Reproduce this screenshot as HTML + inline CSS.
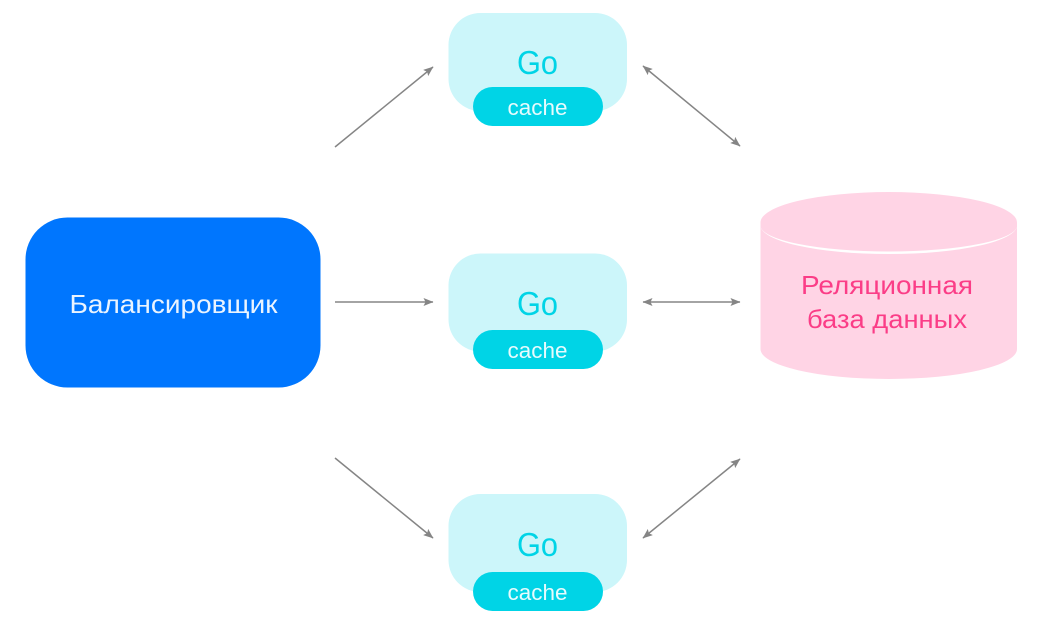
<!DOCTYPE html>
<html>
<head>
<meta charset="utf-8">
<style>
html,body{margin:0;padding:0;background:#fff;width:1043px;height:620px;overflow:hidden}
svg{display:block}
text{font-family:"Liberation Sans","DejaVu Sans",sans-serif;text-anchor:middle}
</style>
</head>
<body>
<svg width="1043" height="620" viewBox="0 0 1043 620" xmlns="http://www.w3.org/2000/svg">
<defs>
<marker id="a" viewBox="0 0 10 8" refX="9.5" refY="4" markerWidth="10" markerHeight="8" markerUnits="userSpaceOnUse" orient="auto-start-reverse"><path d="M0 0L10 4L0 8L2 4Z" fill="#858585"/></marker>
</defs>
<rect x="25.500" y="217.500" width="295" height="170" rx="42" fill="#0076fe"/>
<text x="173.500" y="313" font-size="26" fill="#eaf4ff" textLength="208" lengthAdjust="spacingAndGlyphs">Балансировщик</text>

<g>
<rect x="448.500" y="13" width="178.500" height="98" rx="32" fill="#ccf6fa"/>
<rect x="473" y="87" width="130" height="39" rx="19.500" fill="#00d4e6"/>
<text x="537.500" y="74" font-size="33" fill="#00d4e6" textLength="41" lengthAdjust="spacingAndGlyphs">Go</text>
<text x="537.500" y="115" font-size="22" fill="#e6fbfd" textLength="60" lengthAdjust="spacingAndGlyphs">cache</text>
</g>
<g>
<rect x="448.500" y="253.500" width="178.500" height="98" rx="32" fill="#ccf6fa"/>
<rect x="473" y="330" width="130" height="39" rx="19.500" fill="#00d4e6"/>
<text x="537.500" y="315" font-size="33" fill="#00d4e6" textLength="41" lengthAdjust="spacingAndGlyphs">Go</text>
<text x="537.500" y="358" font-size="22" fill="#e6fbfd" textLength="60" lengthAdjust="spacingAndGlyphs">cache</text>
</g>
<g>
<rect x="448.500" y="494" width="178.500" height="98" rx="32" fill="#ccf6fa"/>
<rect x="473" y="572" width="130" height="39" rx="19.500" fill="#00d4e6"/>
<text x="537.500" y="556" font-size="33" fill="#00d4e6" textLength="41" lengthAdjust="spacingAndGlyphs">Go</text>
<text x="537.500" y="600" font-size="22" fill="#e6fbfd" textLength="60" lengthAdjust="spacingAndGlyphs">cache</text>
</g>

<path d="M760.500 222.500A128.250 30.500 0 0 1 1017 222.500V349A128.250 30 0 0 1 760.500 349Z" fill="#ffd4e5"/>
<path d="M760.500 225.500A128.250 26 0 0 0 1017 225.500A128.250 28.500 0 0 1 760.500 225.500Z" fill="#fff"/>
<text x="887" y="294" font-size="26" fill="#fb3d87" textLength="172" lengthAdjust="spacingAndGlyphs">Реляционная</text>
<text x="887" y="328" font-size="26" fill="#fb3d87" textLength="160" lengthAdjust="spacingAndGlyphs">база данных</text>

<g stroke="#858585" stroke-width="1.500" fill="none">
<line x1="335" y1="147" x2="433" y2="67" marker-end="url(#a)"/>
<line x1="335" y1="302" x2="433" y2="302" marker-end="url(#a)"/>
<line x1="335" y1="458" x2="433" y2="538" marker-end="url(#a)"/>
<line x1="643" y1="66" x2="740" y2="146" marker-start="url(#a)" marker-end="url(#a)"/>
<line x1="643" y1="302" x2="740" y2="302" marker-start="url(#a)" marker-end="url(#a)"/>
<line x1="643" y1="538" x2="740" y2="459" marker-start="url(#a)" marker-end="url(#a)"/>
</g>
</svg>
</body>
</html>
